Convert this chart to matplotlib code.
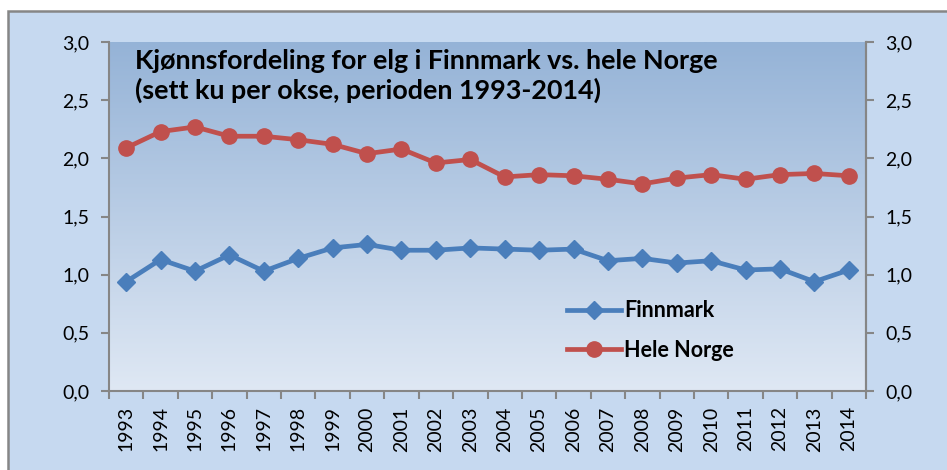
import numpy as np
import matplotlib
matplotlib.use("Agg")
import matplotlib.pyplot as plt
from matplotlib.lines import Line2D
from matplotlib.patches import Rectangle

years = [str(y) for y in range(1993, 2015)]
finnmark = [0.94, 1.13, 1.03, 1.17, 1.03, 1.14, 1.23, 1.26, 1.21, 1.21, 1.23,
            1.22, 1.21, 1.22, 1.12, 1.14, 1.10, 1.12, 1.04, 1.05, 0.94, 1.04]
hele_norge = [2.09, 2.23, 2.27, 2.19, 2.19, 2.16, 2.12, 2.04, 2.08, 1.96, 1.99,
              1.84, 1.86, 1.85, 1.82, 1.78, 1.83, 1.86, 1.82, 1.86, 1.87, 1.85]
yticks = [0.0, 0.5, 1.0, 1.5, 2.0, 2.5, 3.0]
ytick_labels = ["0,0", "0,5", "1,0", "1,5", "2,0", "2,5", "3,0"]
series_names = ["Finnmark", "Hele Norge"]
title_text = "Kjønnsfordeling for elg i Finnmark vs. hele Norge\n(sett ku per okse, perioden 1993-2014)"

plt.rcParams['font.family'] = ['Lato', 'DejaVu Sans']

W, H = 947, 470
fig = plt.figure(figsize=(W / 100, H / 100), dpi=100)
fig.patch.set_facecolor("white")

# outer chart area (only top and left border visible)
bg = Rectangle((8 / W, -0.1), 1.2, 1.1 - 11 / H, transform=fig.transFigure,
               facecolor="#c6d9f0", edgecolor="#868686", linewidth=1.8, zorder=-10)
fig.add_artist(bg)

left, right, bottom, top = 109 / W, 866 / W, 1 - 391 / H, 1 - 42 / H
ax = fig.add_axes([left, bottom, right - left, top - bottom])
ax.set_facecolor("none")

# gradient background of plot area
top_c = np.array([0x95, 0xb3, 0xd7]) / 255
bot_c = np.array([0xdf, 0xe8, 0xf4]) / 255
t = np.linspace(0, 1, 256)[:, None]
grad = top_c[None, :] * (1 - t) + bot_c[None, :] * t
grad = grad[:, None, :]
ax.imshow(grad, extent=[0, 1, 0, 1], transform=ax.transAxes, aspect="auto",
          zorder=0, interpolation="bilinear")

x = np.arange(len(years))
blue = "#4a7ebb"
red = "#c0504d"
ax.plot(x, finnmark, color=blue, lw=3.4, marker="D", ms=9, zorder=3,
        solid_joinstyle="round")
ax.plot(x, hele_norge, color=red, lw=3.4, marker="o", ms=11, zorder=3,
        solid_joinstyle="round")

ax.set_xlim(-0.5, len(years) - 0.5)
ax.set_ylim(0, 3.0)
ax.set_yticks(yticks)
ax.set_yticklabels(ytick_labels, fontsize=14)
ax.set_xticks(x)
ax.set_xticklabels(years, rotation=90, fontsize=14)
ax.set_xticks(np.arange(len(years) + 1) - 0.5, minor=True)
ax.tick_params(axis="x", which="major", length=0, pad=11)
ax.tick_params(axis="x", which="minor", length=6, color="#868686", width=1.5)
ax.tick_params(axis="y", length=6, color="#868686", width=1.5, pad=8)

for s in ["top"]:
    ax.spines[s].set_visible(False)
for s in ["left", "bottom", "right"]:
    ax.spines[s].set_color("#868686")
    ax.spines[s].set_linewidth(1.5)

ax2 = ax.twinx()
ax2.set_ylim(0, 3.0)
ax2.set_yticks(yticks)
ax2.set_yticklabels(ytick_labels, fontsize=14)
ax2.tick_params(axis="y", length=6, color="#868686", width=1.5, pad=8)
for s in ["top", "left", "bottom"]:
    ax2.spines[s].set_visible(False)
ax2.spines["right"].set_color("#868686")
ax2.spines["right"].set_linewidth(1.5)

ax.text(0.035, 0.98, title_text, transform=ax.transAxes, fontsize=19.4,
        fontweight="bold", va="top", ha="left", linespacing=1.22, zorder=4)

handles = [Line2D([], [], color=blue, lw=3.4, marker="D", ms=9),
           Line2D([], [], color=red, lw=3.4, marker="o", ms=11)]
leg = ax.legend(handles, series_names, loc="upper left",
                bbox_to_anchor=(0.58, 0.315), frameon=False,
                prop={"weight": "bold", "size": 15.5}, handlelength=2.5,
                handletextpad=0.15, labelspacing=0.85)
leg.set_zorder(5)

fig.savefig("out.png", dpi=100, facecolor=fig.get_facecolor())
